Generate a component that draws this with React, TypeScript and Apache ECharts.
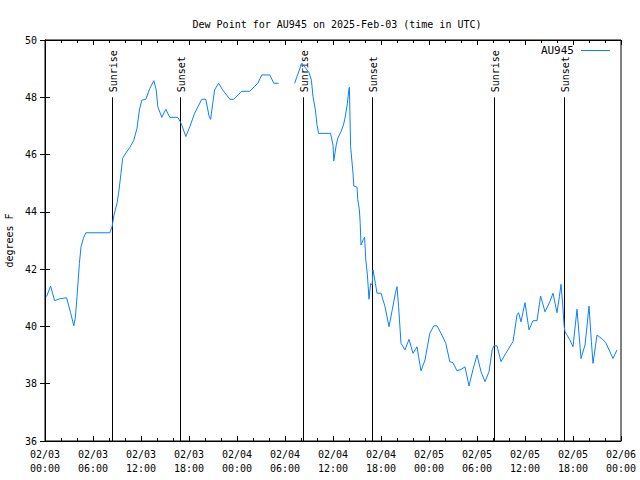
import React, { useEffect, useRef } from "react";
import * as echarts from "echarts";

const titleText = "Dew Point for AU945 on 2025-Feb-03 (time in UTC)";
const seriesName = "AU945";
const yAxisTitle = "degrees F";
const xTickLabels = [
  "02/03\n00:00", "02/03\n06:00", "02/03\n12:00", "02/03\n18:00",
  "02/04\n00:00", "02/04\n06:00", "02/04\n12:00", "02/04\n18:00",
  "02/05\n00:00", "02/05\n06:00", "02/05\n12:00", "02/05\n18:00",
  "02/06\n00:00",
];
// hours since 2025-02-03 00:00 UTC
const sunHours = [8.37, 16.9, 32.3, 40.9, 56.17, 64.9];
const sunLabels = ["Sunrise", "Sunset", "Sunrise", "Sunset", "Sunrise", "Sunset"];

const hours = [
  0.2, 0.7, 1.2, 1.9, 2.7, 3.2, 3.6, 3.8, 4.0, 4.3, 4.5, 4.8, 5.1, 8.1, 8.4, 8.6, 9.0, 9.2, 9.5, 9.7,
  10.1, 10.6, 11.1, 11.5, 11.8, 12.1, 12.6, 13.1, 13.6, 13.9, 14.1, 14.6, 15.1, 15.6, 16.6, 16.9, 17.1, 17.6, 18.1, 18.7,
  19.6, 20.1, 20.5, 20.7, 21.0, 21.2, 21.7, 22.2, 23.1, 23.6, 24.6, 25.6, 26.6, 27.1, 28.1, 28.6, 29.2, 30.2,
  31.2, 32.1, 32.5, 33.0, 33.3, 33.5, 33.8, 34.0, 34.2, 35.7, 36.0, 36.1, 36.4, 36.6, 37.0, 37.3, 37.5, 37.8, 38.0, 38.05,
  38.2, 38.5, 38.6, 39.0, 39.1, 39.3, 39.4, 39.5, 39.8, 39.95, 40.1, 40.3, 40.5, 40.7, 40.9, 41.0, 41.3, 41.5, 42.0, 42.5,
  43.0, 43.4, 43.8, 44.0, 44.2, 44.5, 45.0, 45.5, 46.0, 46.5, 46.7, 47.0, 47.5, 48.1, 48.6, 49.0, 49.5, 50.1, 50.6, 51.0,
  51.5, 52.0, 52.5, 53.0, 53.5, 54.0, 54.5, 55.0, 55.5, 55.9, 56.1, 56.5, 57.0, 57.6, 58.5, 59.0, 59.2, 59.5, 60.0, 60.5,
  61.0, 61.5, 61.95, 62.5, 63.1, 63.5, 64.0, 64.3, 64.5, 64.7, 64.9, 65.0, 65.6, 66.0, 66.5, 67.0, 67.5, 67.7, 68.0, 68.3,
  68.5, 69.0, 69.7, 70.1, 71.0, 71.5,
];
const dewPoint: (number | string)[] = [
  41.04, 41.41, 40.9, 40.97, 41.0, 40.48, 40.02, 40.32, 41.04, 42.2, 42.78, 43.08, 43.27, 43.27, 43.5, 43.86, 44.3, 44.65, 45.35, 45.87,
  46.05, 46.25, 46.5, 46.92, 47.56, 47.9, 47.93, 48.31, 48.58, 48.26, 47.67, 47.3, 47.58, 47.3, 47.3, 47.15, 47.03, 46.63, 46.97, 47.44,
  47.93, 47.93, 47.35, 47.23, 47.85, 48.26, 48.49, 48.26, 47.93, 47.93, 48.21, 48.21, 48.49, 48.78, 48.78, 48.49, 48.49, "-",
  48.49, 49.19, 49.05, 48.86, 48.6, 48.02, 47.56, 47.03, 46.74, 46.74, 46.33, 45.78, 46.33, 46.57, 46.8, 47.03, 47.27, 47.79, 48.31, 48.35,
  46.28, 45.35, 44.9, 44.86, 44.42, 44.07, 43.6, 42.84, 43.04, 43.11, 42.32, 41.8, 40.95, 41.5, 41.45, 41.97, 41.5, 41.16, 41.16, 40.69,
  39.99, 40.57, 41.16, 41.39, 40.69, 39.41, 39.18, 39.55, 39.06, 39.29, 38.94, 38.45, 38.83, 39.76, 40.02, 40.02, 39.76, 39.41, 38.77, 38.73,
  38.45, 38.5, 38.59, 37.92, 38.5, 39.0, 38.42, 38.07, 38.42, 39.18, 39.32, 39.32, 38.77, 39.06, 39.47, 40.4, 40.48, 40.16, 40.83, 39.88,
  40.2, 40.2, 41.06, 40.51, 40.86, 41.16, 40.48, 41.04, 41.47, 40.81, 39.99, 39.82, 39.53, 39.29, 40.6, 38.88, 39.35, 39.88, 40.71, 39.47,
  38.71, 39.7, 39.55, 39.43, 38.88, 39.18,
];

const FONT = "DejaVu Sans Mono";
const LINE_COLOR = "#0a80ff";

export default function App() {
  const ref = useRef<HTMLDivElement>(null);
  useEffect(() => {
    if (!ref.current) return;
    const chart = echarts.init(ref.current, null, { renderer: "svg" });
    const lineData = hours.map((h, i) => [h, dewPoint[i]]);
    const tickStyle = { show: true, inside: true, length: 5, lineStyle: { color: "#000" } };
    const minorStyle = { show: true, splitNumber: 3, length: 3, lineStyle: { color: "#000" } };
    chart.setOption({
      animation: false,
      backgroundColor: "#fff",
      textStyle: { fontFamily: FONT },
      title: {
        text: titleText,
        left: 332,
        textAlign: "center",
        top: 14,
        textStyle: { fontFamily: FONT, fontSize: 10, fontWeight: "normal", color: "#000" },
      },
      legend: {
        data: [seriesName],
        right: 30,
        top: 45,
        padding: 0,
        align: "right",
        icon: "rect",
        itemWidth: 29,
        itemHeight: 1,
        itemGap: 8,
        textStyle: { fontFamily: FONT, fontSize: 11, color: "#000", padding: [0, 2, 0, 0] },
      },
      grid: {
        left: 45,
        right: 19,
        top: 40,
        bottom: 39,
        show: true,
        borderColor: "#000",
        borderWidth: 1,
        containLabel: false,
        outerBoundsMode: "none",
      },
      xAxis: [
        {
          type: "value",
          min: 0,
          max: 72,
          interval: 6,
          axisLine: { show: true, lineStyle: { color: "#000" } },
          axisTick: tickStyle,
          minorTick: minorStyle,
          splitLine: { show: false },
          axisLabel: {
            color: "#000",
            fontFamily: FONT,
            fontSize: 10,
            lineHeight: 14,
            margin: 6,
            showMinLabel: true,
            showMaxLabel: true,
            formatter: (v: number) => xTickLabels[Math.round(v / 6)] ?? "",
          },
        },
        {
          type: "value",
          position: "top",
          min: 0,
          max: 72,
          interval: 6,
          axisLine: { show: true, lineStyle: { color: "#000" } },
          axisTick: tickStyle,
          minorTick: minorStyle,
          splitLine: { show: false },
          axisLabel: { show: false },
        },
      ],
      yAxis: [
        {
          type: "value",
          min: 36,
          max: 50,
          interval: 2,
          name: yAxisTitle,
          nameLocation: "middle",
          nameGap: 30,
          nameTextStyle: { fontFamily: FONT, fontSize: 10, color: "#000" },
          axisLine: { show: true, lineStyle: { color: "#000" } },
          axisTick: tickStyle,
          splitLine: { show: false },
          axisLabel: { color: "#000", fontFamily: FONT, fontSize: 10, margin: 8 },
        },
        {
          type: "value",
          position: "right",
          min: 36,
          max: 50,
          interval: 2,
          axisLine: { show: true, lineStyle: { color: "#000" } },
          axisTick: tickStyle,
          splitLine: { show: false },
          axisLabel: { show: false },
        },
      ],
      series: [
        {
          name: "sun",
          type: "custom",
          xAxisIndex: 0,
          yAxisIndex: 0,
          silent: true,
          data: sunHours.map((h) => [h, 48]),
          encode: { x: 0, y: 1 },
          renderItem: (params: any, api: any) => {
            const h = api.value(0);
            const top = api.coord([h, 48]);
            const bot = api.coord([h, 36]);
            const x = Math.round(top[0]) + 0.5;
            return {
              type: "group",
              children: [
                {
                  type: "line",
                  shape: { x1: x, y1: top[1], x2: x, y2: bot[1] },
                  style: { stroke: "#000", lineWidth: 1 },
                },
                {
                  type: "text",
                  x: x + 1,
                  y: top[1] - 5,
                  rotation: Math.PI / 2,
                  style: {
                    text: sunLabels[params.dataIndex],
                    fill: "#000",
                    font: `10px '${FONT}'`,
                    textAlign: "left",
                    textVerticalAlign: "middle",
                  },
                },
              ],
            };
          },
        },
        {
          name: seriesName,
          type: "line",
          xAxisIndex: 0,
          yAxisIndex: 0,
          data: lineData,
          showSymbol: false,
          symbol: "none",
          connectNulls: false,
          lineStyle: { color: LINE_COLOR, width: 1 },
          itemStyle: { color: LINE_COLOR },
        },
      ],
    });
    return () => chart.dispose();
  }, []);
  return (
    <div
      ref={ref}
      style={{ position: "fixed", left: 0, top: 0, width: 640, height: 480, background: "#fff" }}
    />
  );
}
